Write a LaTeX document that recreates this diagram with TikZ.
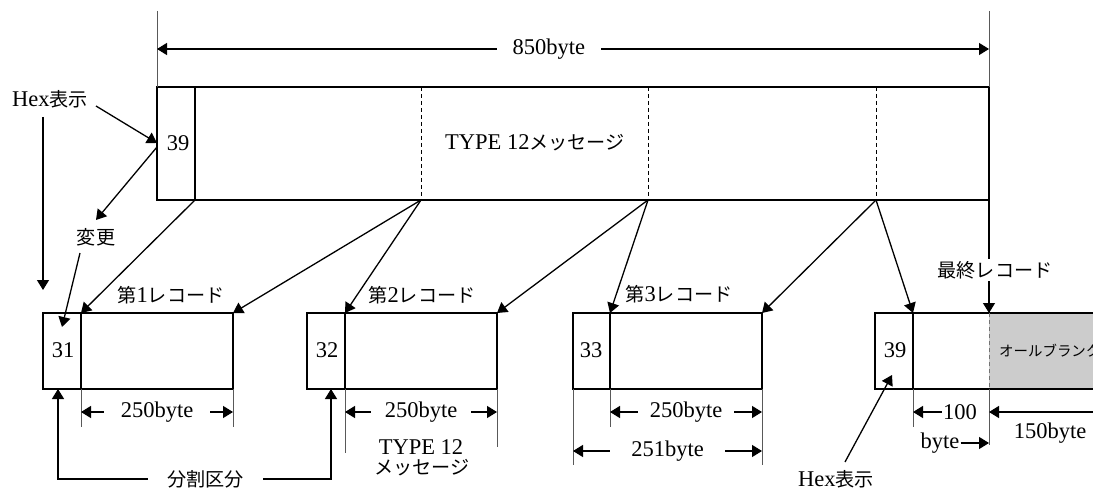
\documentclass[tikz,border=0pt]{standalone}
\usepackage{fontspec}
\setmainfont{Liberation Serif}
\newfontfamily\jp[Scale=0.85]{Noto Sans CJK JP}
\usetikzlibrary{arrows.meta}
\begin{document}
\begin{tikzpicture}[x=1pt,y=-1pt,
  ln/.style={line width=1.3pt},
  box/.style={line width=1.4pt},
  dsh/.style={line width=0.8pt, dash pattern=on 4pt off 3pt},
  ext/.style={line width=0.8pt, draw=black!65},
  arr/.style={ln, -{Triangle[length=10pt,width=12pt]}},
  dim/.style={ln, {Triangle[length=10pt,width=12pt]}-{Triangle[length=10pt,width=12pt]}},
  lbl/.style={font=\fontsize{22.5}{25}\selectfont, inner sep=1pt},
  gap/.style={lbl, fill=white, inner ysep=2pt}
]
\useasboundingbox (0,0) rectangle (1093,492);
\clip (0,0) rectangle (1093,492);

% ---------- coordinates ----------
\coordinate (mTL) at (157,87);  \coordinate (mBR) at (989,200);
\coordinate (mTR) at (989,87);
\coordinate (d0) at (195,200); \coordinate (d1) at (421,200);
\coordinate (d2) at (648,200); \coordinate (d3) at (876,200);

\coordinate (r1d) at (81,313);  \coordinate (r1r) at (233,313);
\coordinate (r2d) at (345,313); \coordinate (r2r) at (497,313);
\coordinate (r3d) at (610,313); \coordinate (r3r) at (762,313);
\coordinate (r4d) at (913,313); \coordinate (r4m) at (989,313);

% ---------- main box ----------
\draw[box] (mTL) rectangle (mBR);
\draw[box] (195,87) -- (d0);
\draw[dsh] (421,87) -- (d1);
\draw[dsh] (648,87) -- (d2);
\draw[dsh] (876,87) -- (d3);
\node[lbl] (m39) at (178,143) {39};
\node[lbl] (mtxt) at (535,143) {TYPE 12{\jp メッセージ}};

% ---------- 850byte ----------
\coordinate (t1) at (157,11); \coordinate (t2) at (989,11);
\draw[ext] (t1) -- (mTL);
\draw[ext] (t2) -- (mTR);
\coordinate (a1) at (157,49); \coordinate (a2) at (989,49);
\draw[dim] (a1) -- node[gap, pos=0.471, inner xsep=16pt] (t850) {850byte} (a2);

% ---------- records ----------
\fill[black!20] (989,313) rectangle (1100,389);
\draw[box] (43,313) rectangle (233,389);
\draw[box] (r1d) -- (81,389);
\draw[box] (307,313) rectangle (497,389);
\draw[box] (r2d) -- (345,389);
\draw[box] (573,313) rectangle (762,389);
\draw[box] (r3d) -- (610,389);
\draw[box] (1100,313) -- (875,313) -- (875,389) -- (1100,389);
\draw[box] (r4d) -- (913,389);
\draw[dsh, draw=black!55] (r4m) -- (989,389);

\node[lbl] (n31) at (63,350) {31};
\node[lbl] (n32) at (327,350) {32};
\node[lbl] (n33) at (591,350) {33};
\node[lbl] (n39) at (895,350) {39};
\node[anchor=west, inner sep=1pt, font=\fontsize{17}{20}\selectfont] (blank) at (998,351) {\jp オールブランク};

\node[lbl] (L1) at (171,295) {{\jp 第}1{\jp レコード}};
\node[lbl] (L2) at (422,295) {{\jp 第}2{\jp レコード}};
\node[lbl] (L3) at (679,294) {{\jp 第}3{\jp レコード}};

% ---------- split arrows ----------
\draw[arr] (d0) -- (r1d);
\draw[arr] (d1) -- (r1r);
\draw[arr] (d1) -- (r2d);
\draw[arr] (d2) -- (r2r);
\draw[arr] (d2) -- (r3d);
\draw[arr] (d3) -- (r3r);
\draw[arr] (d3) -- (r4d);
\draw[arr] (mBR) -- (r4m);
\node[gap, inner xsep=3pt] (Llast) at (995,270) {{\jp 最終レコード}};

% ---------- left annotations ----------
\node[lbl] (hexA) at (50,99) {Hex{\jp 表示}};
\coordinate (hA1) at (96,106); \coordinate (hA2) at (157,143);
\draw[arr] (hA1) -- (hA2);
\coordinate (hB1) at (157,147); \coordinate (hB2) at (96,220);
\draw[arr] (hB1) -- (hB2);
\node[lbl] (henko) at (96,237) {\jp 変更};
\coordinate (hC1) at (80,253); \coordinate (hC2) at (62,327);
\draw[arr] (hC1) -- (hC2);
\coordinate (lv1) at (43,117); \coordinate (lv2) at (43,290);
\draw[arr] (lv1) -- (lv2);

% ---------- dimension lines ----------
\draw[ext] (81,389) -- (81,427);
\draw[ext] (233,389) -- (233,427);
\draw[dim] (81,412) -- node[gap, inner xsep=17pt] (b1) {250byte} (233,412);

\draw[ext] (345,389) -- (345,453);
\draw[ext] (497,389) -- (497,447);
\draw[dim] (345,412) -- node[gap, inner xsep=14pt] (b2) {250byte} (497,412);
\node[lbl] (ty1) at (421,447) {TYPE 12};
\node[lbl] (ty2) at (422,468) {\jp メッセージ};

\draw[ext] (573,389) -- (573,465);
\draw[ext] (610,389) -- (610,427);
\draw[ext] (762,389) -- (762,465);
\draw[dim] (610,412) -- node[gap, inner xsep=12pt] (b3) {250byte} (762,412);
\draw[dim] (573,451) -- node[gap, inner xsep=21pt] (b4) {251byte} (762,451);

\draw[ext] (913,389) -- (913,427);
\draw[ext] (989,389) -- (989,445);
\node[lbl] (h100) at (960,412) {100};
\coordinate (h100t) at (913,412);
\draw[arr] (h100.west) -- (h100t);
\node[lbl] (hbyte) at (940,443) {byte};
\coordinate (hbytet) at (989,443);
\draw[arr] (hbyte.east) -- (hbytet);
\coordinate (e150) at (1100,412); \coordinate (e150t) at (989,412);
\draw[arr] (e150) -- (e150t);
\node[lbl] (h150) at (1050,433) {150byte};

% ---------- bottom annotations ----------
\coordinate (s1) at (58,389); \coordinate (s2) at (331,389);
\draw[dim] (s1) -- (58,479) -- node[gap, pos=0.54, inner xsep=19pt] (bunkatsu) {\jp 分割区分} (331,479) -- (s2);

\node[lbl] (hexB) at (836,479) {Hex{\jp 表示}};
\coordinate (hD1) at (845,462); \coordinate (hD2) at (892,375);
\draw[arr] (hD1) -- (hD2);
\end{tikzpicture}
\end{document}
